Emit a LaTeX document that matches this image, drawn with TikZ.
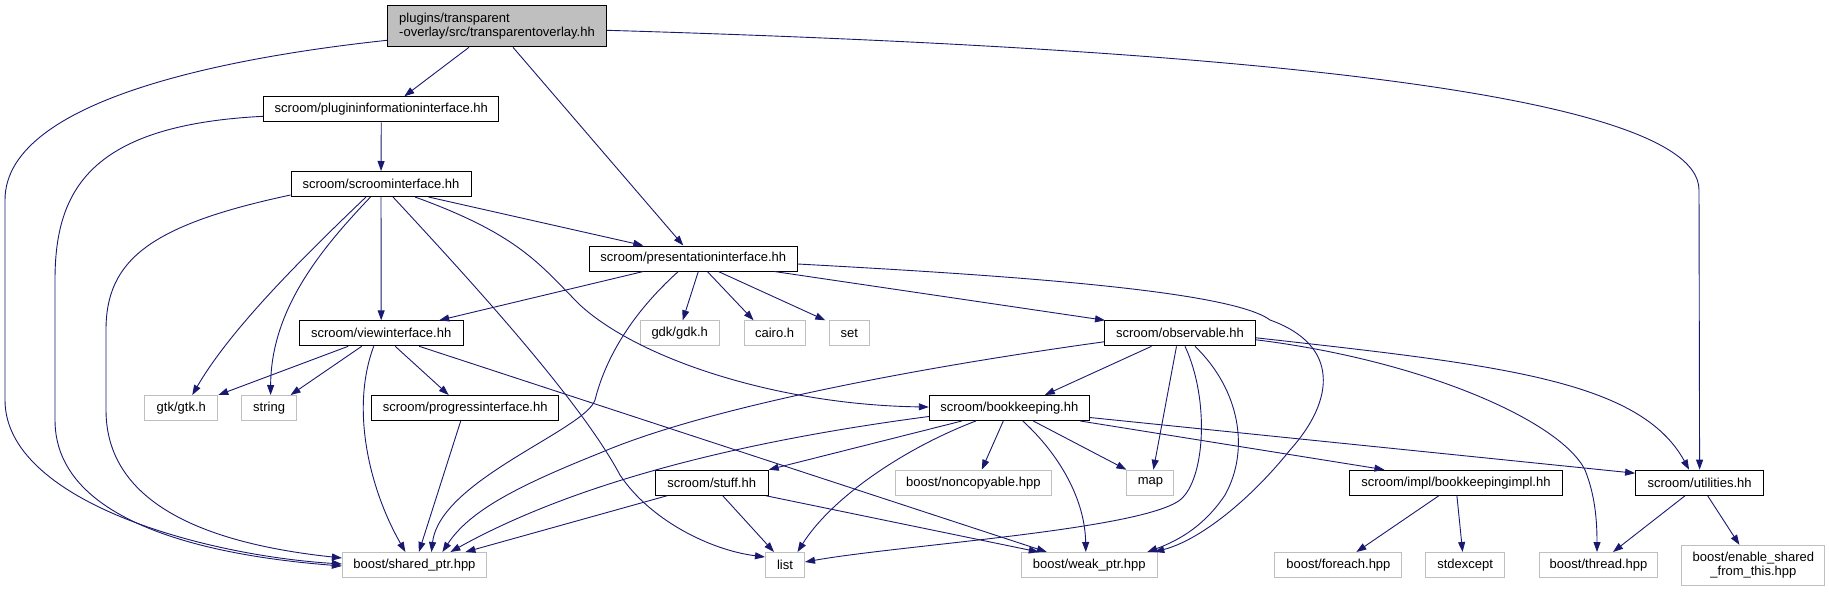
\documentclass[tikz,border=0pt]{standalone}
\usepackage{fontspec}
\setmainfont{Liberation Sans}
\usetikzlibrary{arrows.meta}
\definecolor{midblue}{HTML}{191970}

\begin{document}
\begin{tikzpicture}[x=1pt, y=-1pt,
    font=\fontsize{13}{14.5}\selectfont,
    dep/.style={draw=black, line width=1pt, fill=white, inner sep=0pt, minimum height=25pt},
    ext/.style={draw=black!25, line width=1pt, fill=white, inner sep=0pt, minimum height=25pt},
    edge/.style={draw=midblue, line width=0.9pt, -{Triangle[length=10pt,width=7pt]}}]
    \useasboundingbox (0,0) rectangle (1829,592);

    % File radice
    \node[dep, fill=black!25, minimum width=219pt, minimum height=41pt, align=left] (root) at (497,26.3) {plugins/transparent\\-overlay/src/transparentoverlay.hh};

    % Header del progetto
    \node[dep, minimum width=235pt] (plugin) at (381.3,109.3) {scroom/plugininformationinterface.hh};
    \node[dep, minimum width=180pt] (scroom) at (381,184) {scroom/scroominterface.hh};
    \node[dep, minimum width=208pt] (pres) at (693.3,258.5) {scroom/presentationinterface.hh};
    \node[dep, minimum width=164pt] (view) at (381.2,333.3) {scroom/viewinterface.hh};
    \node[dep, minimum width=151pt] (obs) at (1180,333.3) {scroom/observable.hh};
    \node[dep, minimum width=187pt] (prog) at (465.2,408) {scroom/progressinterface.hh};
    \node[dep, minimum width=160pt] (book) at (1009.3,408) {scroom/bookkeeping.hh};
    \node[dep, minimum width=113pt] (stuff) at (711.7,482.7) {scroom/stuff.hh};
    \node[dep, minimum width=213pt] (impl) at (1455.9,482.7) {scroom/impl/bookkeepingimpl.hh};
    \node[dep, minimum width=128pt] (util) at (1699.6,482.7) {scroom/utilities.hh};

    % Header esterni
    \node[ext, minimum width=79pt] (gdk) at (679.7,333.3) {gdk/gdk.h};
    \node[ext, minimum width=61pt] (cairo) at (774.6,333.3) {cairo.h};
    \node[ext, minimum width=40pt] (set) at (849.3,333.3) {set};
    \node[ext, minimum width=73pt] (gtk) at (181.3,408) {gtk/gtk.h};
    \node[ext, minimum width=55pt] (str) at (269.1,408) {string};
    \node[ext, minimum width=156pt] (noncp) at (973.3,482.7) {boost/noncopyable.hpp};
    \node[ext, minimum width=47pt] (map) at (1150.4,482.7) {map};
    \node[ext, minimum width=144pt] (shptr) at (414.4,565) {boost/shared\_ptr.hpp};
    \node[ext, minimum width=39pt] (list) at (785,565) {list};
    \node[ext, minimum width=136pt] (weak) at (1089.3,565) {boost/weak\_ptr.hpp};
    \node[ext, minimum width=127pt] (foreach) at (1338.4,565) {boost/foreach.hpp};
    \node[ext, minimum width=79pt] (stdexc) at (1465.1,565) {stdexcept};
    \node[ext, minimum width=118pt] (thread) at (1598.5,565) {boost/thread.hpp};
    \node[ext, minimum width=143pt, minimum height=40pt, align=center] (enable) at (1753.4,565.3) {boost/enable\_shared\\\_from\_this.hpp};

    % Dipendenze della radice
    \draw[edge] ([yshift=-14pt]root.west) .. controls (250,55) and (5,95) .. (5,200) -- (5,400) .. controls (5,500) and (200,555) .. ([yshift=1pt]shptr.west);
    \draw[edge] ([xshift=-28pt]root.south) -- ([xshift=23pt]plugin.north);
    \draw[edge] ([xshift=16pt]root.south) -- ([xshift=-10pt]pres.north);
    \draw[edge] ([yshift=-4pt]root.east) .. controls (1100,45) and (1699,80) .. (1699,190) -- (util.north);

    % plugininformationinterface
    \draw[edge] ([yshift=-7pt]plugin.west) .. controls (90,125) and (55,190) .. (55,280) -- (55,420) .. controls (55,520) and (200,555) .. ([yshift=-1pt]shptr.west);
    \draw[edge] (plugin) -- (scroom);

    % scroominterface
    \draw[edge] ([yshift=-11pt]scroom.west) .. controls (150,225) and (106,260) .. (106,330) -- (106,410) .. controls (106,510) and (220,545) .. ([yshift=7pt]shptr.west);
    \draw[edge] ([xshift=-15pt]scroom.south) .. controls (300,260) and (230,330) .. ([xshift=11pt]gtk.north);
    \draw[edge] ([xshift=-10.5pt]scroom.south) .. controls (320,250) and (271,310) .. ([xshift=1.5pt]str.north);
    \draw[edge] (scroom) -- (view);
    \draw[edge] ([xshift=12pt]scroom.south) .. controls (470,280) and (580,400) .. (620,475) .. controls (650,520) and (710,550) .. ([yshift=8pt]list.west);
    \draw[edge] ([xshift=34pt]scroom.south) .. controls (520,235) and (540,265) .. (580,305) .. controls (640,360) and (780,405) .. ([yshift=1pt]book.west);
    \draw[edge] ([xshift=47.5pt]scroom.south) -- ([xshift=-50pt]pres.north);

    % presentationinterface
    \draw[edge] ([xshift=-50pt]pres.south) -- ([xshift=58pt]view.north);
    \draw[edge] ([xshift=-15pt]pres.south) .. controls (630,315) and (605,360) .. (595,400) .. controls (585,430) and (440,480) .. ([xshift=17pt]shptr.north);
    \draw[edge] ([xshift=5pt]pres.south) -- ([xshift=3pt]gdk.north);
    \draw[edge] ([xshift=14pt]pres.south) -- ([xshift=-21pt]cairo.north);
    \draw[edge] ([xshift=25pt]pres.south) -- ([xshift=-24pt]set.north);
    \draw[edge] ([xshift=81pt]pres.south) -- ([xshift=-75pt]obs.north);
    \draw[edge] ([yshift=-5.5pt]pres.east) .. controls (1000,275) and (1230,290) .. (1270,320) .. controls (1340,345) and (1335,400) .. (1290,450) .. controls (1250,500) and (1200,540) .. ([xshift=65pt]weak.north);

    % viewinterface
    \draw[edge] ([xshift=-33pt]view.south) -- (gtk.north east);
    \draw[edge] ([xshift=-19.5pt]view.south) -- ([xshift=21.5pt]str.north);
    \draw[edge] ([xshift=-7.5pt]view.south) .. controls (350,410) and (370,490) .. ([xshift=-9pt]shptr.north);
    \draw[edge] ([xshift=14pt]view.south) -- ([xshift=-16.5pt]prog.north);
    \draw[edge] ([xshift=38pt]view.south) -- ([xshift=-42.5pt]weak.north);

    % progressinterface
    \draw[edge] ([xshift=-4.5pt]prog.south) -- ([xshift=4.5pt]shptr.north);

    % observable
    \draw[edge] ([yshift=-8.5pt]obs.west) .. controls (900,370) and (700,410) .. (600,453) .. controls (520,485) and (470,510) .. ([xshift=28pt]shptr.north);
    \draw[edge] ([xshift=-28.5pt]obs.south) -- ([xshift=35.5pt]book.north);
    \draw[edge] ([xshift=-3.5pt]obs.south) -- ([xshift=3pt]map.north);
    \draw[edge] ([xshift=5pt]obs.south) .. controls (1210,400) and (1205,480) .. (1180,500) .. controls (1140,530) and (900,545) .. ([yshift=3pt]list.east);
    \draw[edge] ([xshift=15pt]obs.south) .. controls (1240,390) and (1250,450) .. (1225,495) .. controls (1205,525) and (1180,540) .. ([xshift=58pt]weak.north);
    \draw[edge] ([yshift=-6.5pt]obs.east) .. controls (1420,360) and (1560,420) .. (1585,470) .. controls (1595,495) and (1597,520) .. ([xshift=-1.5pt]thread.north);
    \draw[edge] ([yshift=-4.5pt]obs.east) .. controls (1500,365) and (1640,380) .. ([xshift=-10.5pt]util.north);

    % bookkeeping
    \draw[edge] ([yshift=-8.5pt]book.west) .. controls (750,440) and (580,480) .. ([xshift=36pt]shptr.north);
    \draw[edge] ([xshift=-47.5pt]book.south) -- (stuff.north east);
    \draw[edge] ([xshift=-33.5pt]book.south) .. controls (900,450) and (830,500) .. ([xshift=12.5pt]list.north);
    \draw[edge] ([xshift=-6pt]book.south) -- ([xshift=8.5pt]noncp.north);
    \draw[edge] ([xshift=13.5pt]book.south) .. controls (1060,455) and (1085,500) .. ([xshift=-3.5pt]weak.north);
    \draw[edge] ([xshift=24pt]book.south) -- (map.north west);
    \draw[edge] ([xshift=71pt]book.south) -- ([xshift=-71.5pt]impl.north);
    \draw[edge] ([yshift=-9.5pt]book.east) -- ([yshift=9.5pt]util.west);

    % stuff
    \draw[edge] ([xshift=-44.5pt]stuff.south) -- ([xshift=51pt]shptr.north);
    \draw[edge] ([xshift=11pt]stuff.south) -- ([xshift=-11pt]list.north);
    \draw[edge] ([xshift=54pt]stuff.south) -- ([xshift=-50.5pt]weak.north);

    % bookkeepingimpl e utilities
    \draw[edge] ([xshift=-17pt]impl.south) -- ([xshift=18pt]foreach.north);
    \draw[edge] ([xshift=1pt]impl.south) -- ([xshift=-2.5pt]stdexc.north);
    \draw[edge] ([xshift=-14.5pt]util.south) -- ([xshift=14.5pt]thread.north);
    \draw[edge] ([xshift=8pt]util.south) -- ([xshift=-14pt]enable.north);
\end{tikzpicture}
\end{document}
